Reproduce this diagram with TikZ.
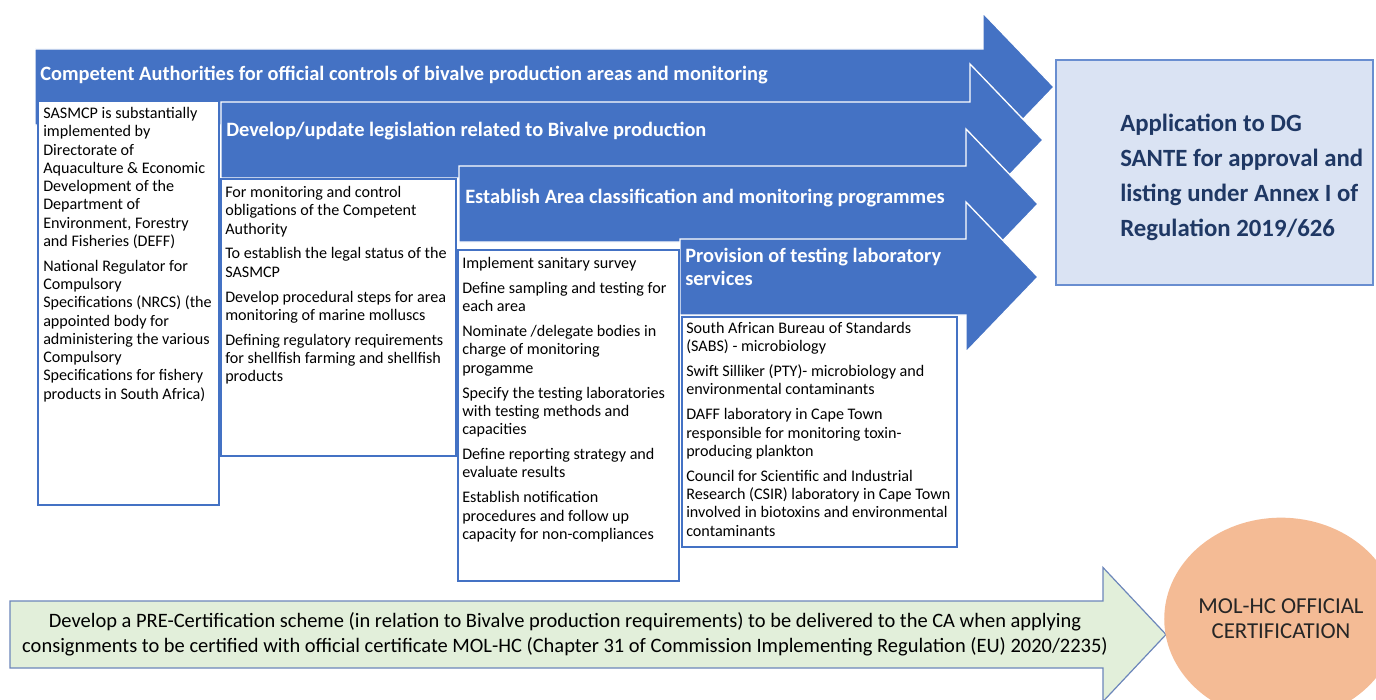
\documentclass[tikz,border=0pt]{standalone}
\usepackage{fontspec}
\setmainfont{Carlito}
\usetikzlibrary{shapes.geometric}

\definecolor{arrowblue}{HTML}{4472C4}
\definecolor{paleblue}{HTML}{DAE3F3}
\definecolor{darkblue}{HTML}{1F3864}
\definecolor{palegreen}{HTML}{E2EFDA}
\definecolor{greenedge}{HTML}{6C86BA}
\definecolor{salmon}{HTML}{F4BB95}

% block arrow: style, left, centre y, head start, tip, body half, head half
\newcommand{\blockarrow}[7]{%
  \filldraw[#1] (#2,#3-#6) -- (#4,#3-#6) -- (#4,#3-#7) -- (#5,#3)
    -- (#4,#3+#7) -- (#4,#3+#6) -- (#2,#3+#6) -- cycle;}

\begin{document}
\begin{tikzpicture}[x=0.75pt, y=-0.75pt,
    bluearrow/.style={fill=arrowblue, draw=white, line width=1pt},
    greenarrow/.style={fill=palegreen, draw=greenedge, line width=0.9pt},
    header/.style={anchor=west, inner sep=0pt, text=white, align=left,
      font=\fontsize{15.3}{17}\selectfont\bfseries},
    listbox/.style={fill=white, draw=arrowblue, line width=0.8pt},
    listtext/.style={anchor=north west, inner sep=0pt, align=left,
      font=\fontsize{12.1}{13.7}\selectfont}]
  \useasboundingbox (0,0) rectangle (1376,699);

  % Arrows
  \blockarrow{bluearrow}{35}{87}{983}{1054}{38}{74}
  \blockarrow{bluearrow}{221}{140}{970}{1043}{38}{76}
  \blockarrow{bluearrow}{459}{204}{966}{1038}{38}{75}
  \blockarrow{bluearrow}{680}{277}{966}{1038}{38}{75}
  \blockarrow{greenarrow}{10}{634.5}{1103}{1166}{33.5}{67}

  % Boxes
  \filldraw[listbox] (38,101) rectangle (219,505);
  \filldraw[listbox] (221,179) rectangle (456,456);
  \filldraw[listbox] (458,250) rectangle (679,581);
  \filldraw[listbox] (682,317) rectangle (957,547);
  \filldraw[fill=paleblue, draw=arrowblue!80, line width=0.8pt] (1056,60) rectangle (1373,285);

  % Headers
  \node[header] (authorities) at (40,75) {Competent Authorities for official controls of bivalve production areas and monitoring};
  \node[header] (legislation) at (226,131) {Develop/update legislation related to Bivalve production};
  \node[header] (classification) at (465,198) {Establish Area classification and monitoring programmes};
  \node[header] (laboratory) at (685,267) {Provision of testing laboratory\\services};

  % Lists
  \node[listtext] (sasmcp) at (43,107) {SASMCP is substantially\\implemented by\\Directorate of\\Aquaculture \& Economic\\Development of the\\Department of\\Environment, Forestry\\and Fisheries (DEFF)\\[5pt]
    National Regulator for\\Compulsory\\Specifications (NRCS) (the\\appointed body for\\administering the various\\Compulsory\\Specifications for fishery\\products in South Africa)};
  \node[listtext] (obligations) at (225,186) {For monitoring and control\\obligations of the Competent\\Authority\\[5pt]
    To establish the legal status of the\\SASMCP\\[5pt]
    Develop procedural steps for area\\monitoring of marine molluscs\\[5pt]
    Defining regulatory requirements\\for shellfish farming and shellfish\\products};
  \node[listtext] (survey) at (462,257) {Implement sanitary survey\\[5pt]
    Define sampling and testing for\\each area\\[5pt]
    Nominate /delegate bodies in\\charge of monitoring\\progamme\\[5pt]
    Specify the testing laboratories\\with testing methods and\\capacities\\[5pt]
    Define reporting strategy and\\evaluate results\\[5pt]
    Establish notification\\procedures and follow up\\capacity for non-compliances};
  \node[listtext] (labs) at (686,322) {South African Bureau of Standards\\(SABS) - microbiology\\[5pt]
    Swift Silliker (PTY)- microbiology and\\environmental contaminants\\[5pt]
    DAFF laboratory in Cape Town\\responsible for monitoring toxin-\\producing plankton\\[5pt]
    Council for Scientific and Industrial\\Research (CSIR) laboratory in Cape Town\\involved in biotoxins and environmental\\contaminants};

  % Right side
  \node[anchor=west, inner sep=0pt, align=left, text=darkblue,
    font=\fontsize{18.6}{26.25}\selectfont\bfseries] (approval) at (1120,177)
    {Application to DG\\SANTE for approval and\\listing under Annex I of\\Regulation 2019/626};
  \node[listtext, anchor=center, align=center, font=\fontsize{15.35}{18.75}\selectfont] (precert) at (565,634.5)
    {Develop a PRE-Certification scheme (in relation to Bivalve production requirements) to be delivered to the CA when applying\\consignments to be certified with official certificate MOL-HC (Chapter 31 of Commission Implementing Regulation (EU) 2020/2235)};
  \node[ellipse, fill=salmon, inner sep=0pt, minimum width=172.5pt, minimum height=152pt, align=center,
    text=black!85, font=\fontsize{17.1}{18.75}\selectfont] (molhc) at (1281,619)
    {MOL-HC OFFICIAL\\CERTIFICATION};
\end{tikzpicture}
\end{document}
